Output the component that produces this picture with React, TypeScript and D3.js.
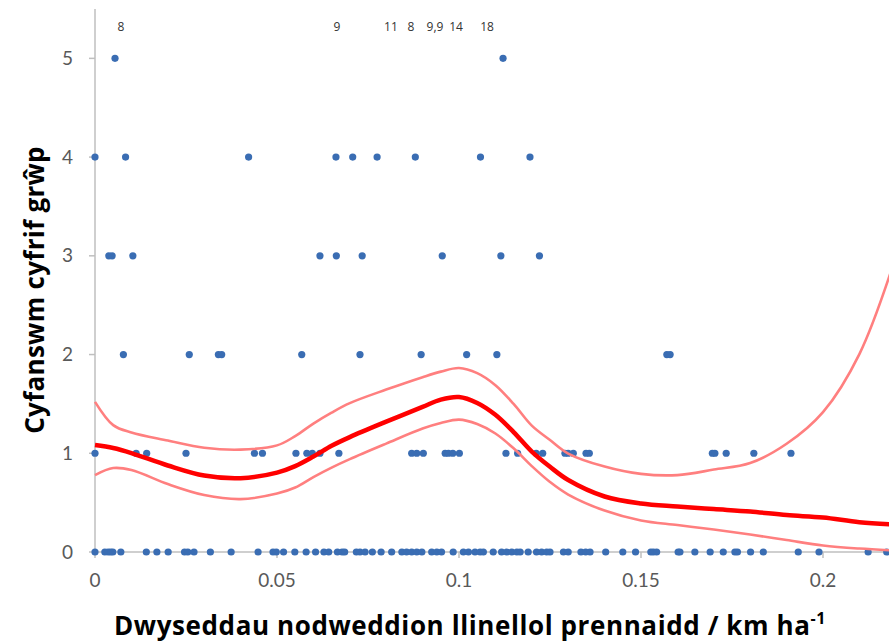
import React, { useEffect, useRef } from "react";
import * as d3 from "d3";

// Observations: density (km/ha) at each group-count level
const count0 = [0, 0.0027, 0.0036, 0.0043, 0.0049, 0.0071, 0.0141, 0.017, 0.0201, 0.0246, 0.0255, 0.0272, 0.0317, 0.0374, 0.0448, 0.0489, 0.0498, 0.0518, 0.0549, 0.058, 0.0606, 0.0629, 0.0642, 0.0666, 0.0679, 0.0686, 0.0718, 0.0728, 0.0742, 0.0762, 0.0786, 0.0815, 0.0843, 0.0856, 0.087, 0.0884, 0.0898, 0.0925, 0.0939, 0.0952, 0.0984, 0.1012, 0.1026, 0.1044, 0.1058, 0.1067, 0.1094, 0.1117, 0.1131, 0.1145, 0.1159, 0.1168, 0.119, 0.1213, 0.1227, 0.1241, 0.125, 0.1287, 0.13, 0.1335, 0.1348, 0.136, 0.1403, 0.145, 0.1485, 0.1527, 0.1534, 0.1543, 0.1602, 0.1607, 0.1648, 0.169, 0.1726, 0.1758, 0.1765, 0.1801, 0.1836, 0.1932, 0.1989, 0.2124, 0.2175];
const count1 = [0, 0.0113, 0.0142, 0.025, 0.0438, 0.046, 0.0552, 0.0582, 0.0597, 0.0618, 0.067, 0.087, 0.0884, 0.0902, 0.0962, 0.0971, 0.0983, 0.1001, 0.1129, 0.1161, 0.1212, 0.123, 0.1291, 0.13, 0.1314, 0.1349, 0.1358, 0.1696, 0.1703, 0.1734, 0.181, 0.1912];
const count2 = [0.0078, 0.0259, 0.0339, 0.0348, 0.0568, 0.0728, 0.0896, 0.1021, 0.1104, 0.1571, 0.158];
const count3 = [0.0038, 0.0047, 0.0104, 0.0618, 0.0663, 0.0734, 0.0954, 0.1115, 0.1221];
const count4 = [0, 0.0084, 0.0422, 0.0662, 0.0708, 0.0775, 0.088, 0.1059, 0.1195];
const count5 = [0.0055, 0.1121];

// Fitted smoother with confidence band
const fitX = [0, 0.005, 0.01, 0.02, 0.03, 0.04, 0.05, 0.055, 0.06, 0.065, 0.07, 0.08, 0.09, 0.095, 0.1, 0.105, 0.11, 0.115, 0.12, 0.125, 0.13, 0.14, 0.15, 0.16, 0.17, 0.18, 0.19, 0.2, 0.21, 0.22];
const fitMean = [1.083, 1.053, 1.002, 0.876, 0.774, 0.747, 0.804, 0.87, 0.967, 1.076, 1.164, 1.32, 1.47, 1.544, 1.57, 1.51, 1.39, 1.215, 1.017, 0.863, 0.729, 0.562, 0.491, 0.461, 0.435, 0.41, 0.374, 0.349, 0.302, 0.278];
const fitUpper = [1.521, 1.285, 1.21, 1.129, 1.056, 1.037, 1.08, 1.174, 1.301, 1.412, 1.508, 1.645, 1.771, 1.827, 1.864, 1.812, 1.69, 1.5, 1.28, 1.134, 0.997, 0.865, 0.791, 0.779, 0.835, 0.901, 1.096, 1.417, 2.005, 2.99];
const fitLower = [0.779, 0.85, 0.83, 0.688, 0.577, 0.536, 0.592, 0.653, 0.759, 0.855, 0.941, 1.098, 1.25, 1.306, 1.341, 1.296, 1.2, 1.05, 0.87, 0.709, 0.582, 0.42, 0.319, 0.273, 0.228, 0.177, 0.121, 0.066, 0.035, 0.015];

// Stacked-count annotations along the top
const noteX = [0.0071, 0.0665, 0.0813, 0.0868, 0.0934, 0.0992, 0.1077];
const noteText = ["8", "9", "11", "8", "9,9", "14", "18"];

const xTicks = [0, 0.05, 0.1, 0.15, 0.2];
const xTickLabels = ["0", "0.05", "0.1", "0.15", "0.2"];
const yTicks = [0, 1, 2, 3, 4, 5];

const W = 889;
const H = 643;
const TICK_FONT = "Lato, 'Open Sans', sans-serif";
const TITLE_FONT = "'Open Sans', 'Noto Sans', sans-serif";

export default function App() {
  const ref = useRef<SVGSVGElement | null>(null);

  useEffect(() => {
    const svg = d3.select(ref.current);
    svg.selectAll("*").remove();

    const x = d3.scaleLinear().domain([0, 0.22]).range([95, 895.8]);
    const y = d3.scaleLinear().domain([0, 5.5]).range([552, 9]);

    const axisColor = "#bfbfbf";
    const labelColor = "#595959";

    // axes
    svg.append("line").attr("x1", x(0)).attr("x2", x(0)).attr("y1", y(5.5)).attr("y2", y(0))
      .attr("stroke", axisColor).attr("stroke-width", 1.5);
    svg.append("line").attr("x1", x(0)).attr("x2", W).attr("y1", y(0)).attr("y2", y(0))
      .attr("stroke", axisColor).attr("stroke-width", 1.5);

    yTicks.forEach((t) => {
      svg.append("line").attr("x1", x(0) - 6).attr("x2", x(0)).attr("y1", y(t)).attr("y2", y(t))
        .attr("stroke", axisColor).attr("stroke-width", 1.5);
      svg.append("text").attr("x", 73).attr("y", y(t)).attr("dy", "0.35em")
        .attr("text-anchor", "end").attr("font-family", TICK_FONT).attr("font-size", 19)
        .attr("fill", labelColor).text(String(t));
    });

    xTicks.forEach((t, i) => {
      svg.append("line").attr("x1", x(t)).attr("x2", x(t)).attr("y1", y(0)).attr("y2", y(0) + 6)
        .attr("stroke", axisColor).attr("stroke-width", 1.5);
      svg.append("text").attr("x", x(t)).attr("y", 587)
        .attr("text-anchor", "middle").attr("font-family", TICK_FONT).attr("font-size", 19)
        .attr("fill", labelColor).text(xTickLabels[i]);
    });

    // axis titles
    svg.append("text")
      .attr("transform", `translate(44, 290) rotate(-90)`)
      .attr("text-anchor", "middle").attr("font-family", TITLE_FONT).attr("font-size", 26)
      .attr("letter-spacing", 0.3)
      .attr("font-weight", "bold").attr("fill", "#000").text("Cyfanswm cyfrif grŵp");

    const xt = svg.append("text")
      .attr("x", 470).attr("y", 635)
      .attr("text-anchor", "middle").attr("font-family", TITLE_FONT).attr("font-size", 26)
      .attr("letter-spacing", 0.6)
      .attr("font-weight", "bold").attr("fill", "#000");
    xt.append("tspan").text("Dwyseddau nodweddion llinellol prennaidd / km ha");
    xt.append("tspan").attr("font-size", 16).attr("dy", -11).text("-1");

    // scatter points
    const rows = [count0, count1, count2, count3, count4, count5];
    const pts: [number, number][] = [];
    rows.forEach((row, v) => row.forEach((d) => pts.push([d, v])));

    svg.append("g").selectAll("circle").data(pts).join("circle")
      .attr("cx", (d) => x(d[0])).attr("cy", (d) => y(d[1])).attr("r", 3.6)
      .attr("fill", "#3a6db3");

    // smoother lines
    const line = d3.line<number>()
      .x((_, i) => x(fitX[i]))
      .y((d) => y(d))
      .curve(d3.curveCatmullRom.alpha(0.5));

    const g = svg.append("g");
    [fitUpper, fitLower].forEach((arr) => {
      g.append("path").attr("d", line(arr) as string).attr("fill", "none")
        .attr("stroke", "#ff7f7f").attr("stroke-width", 2.6);
    });
    g.append("path").attr("d", line(fitMean) as string).attr("fill", "none")
      .attr("stroke", "#ff0000").attr("stroke-width", 4.5);

    // count notes
    noteX.forEach((nx, i) => {
      svg.append("text").attr("x", x(nx)).attr("y", 31)
        .attr("text-anchor", "middle").attr("font-family", TITLE_FONT).attr("font-size", 12)
        .attr("fill", "#333").text(noteText[i]);
    });
  }, []);

  return (
    <div style={{ position: "absolute", left: 0, top: 0 }}>
      <svg ref={ref} width={W} height={H} style={{ display: "block", background: "#fff" }} />
    </div>
  );
}
